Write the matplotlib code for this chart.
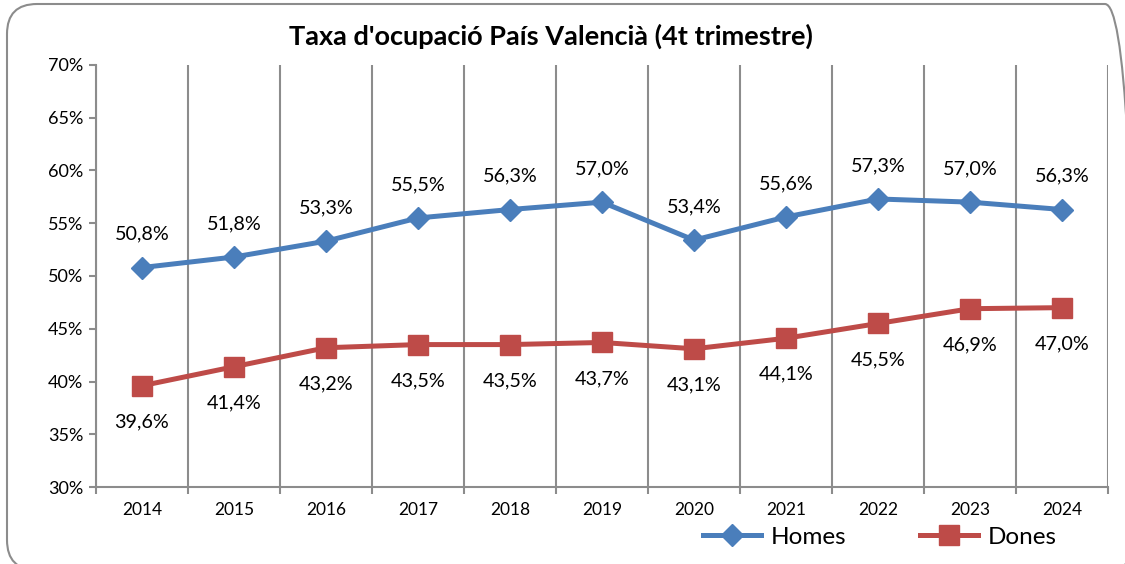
import matplotlib.pyplot as plt
from matplotlib.patches import FancyBboxPatch
from matplotlib.ticker import FuncFormatter

years = ['2014', '2015', '2016', '2017', '2018', '2019', '2020', '2021', '2022', '2023', '2024']
homes = [50.8, 51.8, 53.3, 55.5, 56.3, 57.0, 53.4, 55.6, 57.3, 57.0, 56.3]
dones = [39.6, 41.4, 43.2, 43.5, 43.5, 43.7, 43.1, 44.1, 45.5, 46.9, 47.0]

plt.rcParams['font.family'] = ['Lato', 'DejaVu Sans']

fig = plt.figure(figsize=(11.25, 5.64), dpi=100)
ax = fig.add_axes([0.0853, 0.1365, 0.8997, 0.7483])

# rounded chart border like Excel (inches); right and bottom edges run off the picture,
# so clip it to the figure and keep it out of any layout/tight bbox
border = FancyBboxPatch((0.07, -0.06), 11.28, 5.66, boxstyle='round,pad=0,rounding_size=0.3',
                        transform=fig.dpi_scale_trans, fill=False, edgecolor='#8c8c8c', linewidth=1.5)
border.set_clip_box(fig.bbox)
border.set_clip_on(True)
border.set_in_layout(False)
fig.patches.append(border)

x = list(range(len(years)))
blue = '#4a7ebb'
red = '#be4b48'
ax.plot(x, homes, color=blue, linewidth=3.6, marker='D', markersize=11, label='Homes', zorder=3)
ax.plot(x, dones, color=red, linewidth=3.6, marker='s', markersize=14, label='Dones', zorder=3)

for i in x:
    ax.annotate(f'{homes[i]:.1f}%'.replace('.', ','), (i, homes[i]), xytext=(0, 24), textcoords='offset points',
                ha='center', va='center', fontsize=14.2)
    ax.annotate(f'{dones[i]:.1f}%'.replace('.', ','), (i, dones[i]), xytext=(0, -26), textcoords='offset points',
                ha='center', va='center', fontsize=14.2)

ax.set_xlim(-0.5, len(years) - 0.5)
ax.set_ylim(30, 70)
ax.set_yticks(range(30, 71, 5))
ax.yaxis.set_major_formatter(FuncFormatter(lambda v, p: f'{v:.0f}%'))
ax.set_xticks(x)
ax.set_xticklabels(years)
ax.set_xticks([i - 0.5 for i in range(len(years) + 1)], minor=True)
ax.tick_params(axis='x', which='major', length=0, pad=11, labelsize=12.5)
ax.tick_params(axis='x', which='minor', length=5, color='#8c8c8c', width=1.5)
ax.tick_params(axis='y', length=5, color='#8c8c8c', width=1.5, labelsize=13, pad=4)
ax.grid(axis='x', which='minor', color='#8c8c8c', linewidth=1.5)

for s in ['top', 'right']:
    ax.spines[s].set_visible(False)
for s in ['left', 'bottom']:
    ax.spines[s].set_color('#8c8c8c')
    ax.spines[s].set_linewidth(1.5)

fig.text(0.49, 0.935, "Taxa d'ocupació País Valencià (4t trimestre)", ha='center', va='center',
         fontsize=19.5, fontweight='bold')

fig.legend(loc='center', bbox_to_anchor=(0.782, 0.047), ncol=2, frameon=False, fontsize=17.5,
           handlelength=2.4, columnspacing=3.0, handletextpad=0.4)

fig.savefig('out.png', dpi=100)
